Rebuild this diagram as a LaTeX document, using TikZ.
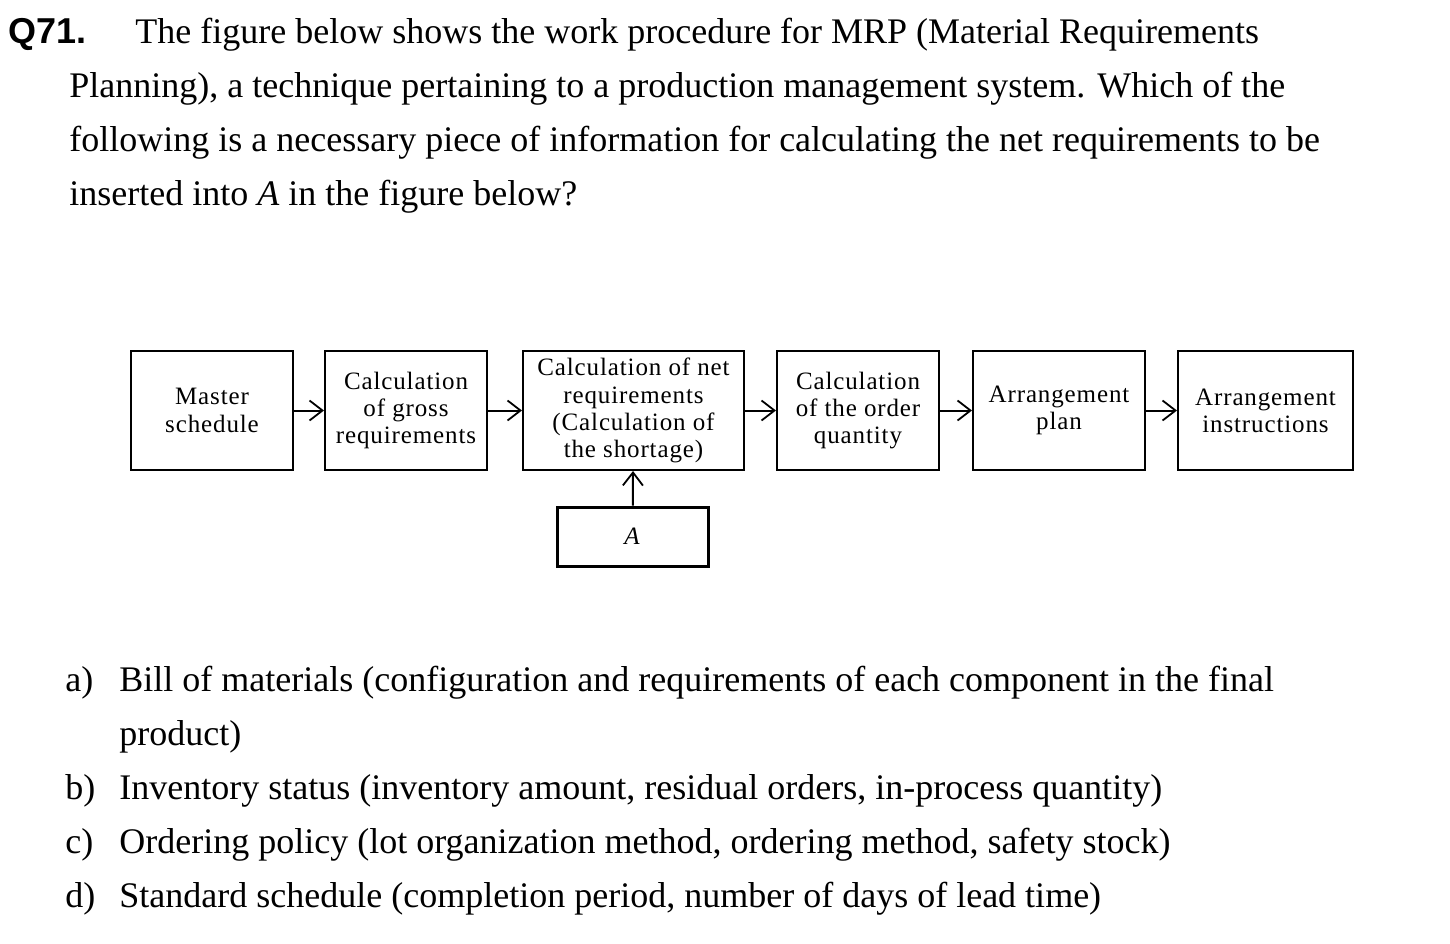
\documentclass[tikz,border=0pt]{standalone}
\usepackage{fontspec}
\setmainfont{Liberation Serif}
\newfontfamily\qfont{Liberation Sans}
\newfontfamily\boxfont[LetterSpace=3.5]{Liberation Serif}
\usetikzlibrary{arrows.meta}
\tikzset{
  txt/.style={anchor=base west, inner sep=0pt, font=\fontsize{18}{27}\selectfont},
  procbox/.style={draw, line width=1pt, align=center, inner sep=0pt,
    font=\boxfont\fontsize{12.5}{13.6}\selectfont},
  flow/.style={line width=1pt, -{Straight Barb[length=6.5pt,width=10pt,line width=0.9pt]}}
}
\begin{document}
\begin{tikzpicture}[x=0.5pt,y=-0.5pt]
\useasboundingbox (0,0) rectangle (1450,943);
% question text
\node[txt, font=\qfont\bfseries\fontsize{18}{27}\selectfont] (q) at (8,43) {Q71.};
\node[txt] (l1) at (135,43) {The figure below shows the work procedure for MRP (Material Requirements};
\node[txt] (l2) at (69,97) {Planning), a technique pertaining to a production management system. Which of the};
\node[txt] (l3) at (69,151) {following is a necessary piece of information for calculating the net requirements to be};
\node[txt] (l4) at (69,205) {inserted into \textit{A} in the figure below?};
% boxes
\node[procbox, minimum width=81pt, minimum height=59.5pt] (ms) at (212,410.5) {Master\\schedule};
\node[procbox, minimum width=81pt, minimum height=59.5pt] (gr) at (406,410.5) {Calculation\\of gross\\requirements};
\node[procbox, minimum width=110.5pt, minimum height=59.5pt] (nr) at (633.5,410.5) {Calculation of net\\requirements\\(Calculation of\\the shortage)};
\node[procbox, minimum width=81pt, minimum height=59.5pt] (oq) at (858,410.5) {Calculation\\of the order\\quantity};
\node[procbox, minimum width=86pt, minimum height=59.5pt] (ap) at (1059,410.5) {Arrangement\\plan};
\node[procbox, minimum width=87.5pt, minimum height=59.5pt] (ai) at (1265.5,410.5) {Arrangement\\instructions};
\node[procbox, line width=1.5pt, minimum width=75.5pt, minimum height=29.5pt] (a) at (632.5,536.5) {\textit{A}};
% arrows
\draw[flow] (ms) -- (gr);
\draw[flow] (gr) -- (nr);
\draw[flow] (nr) -- (oq);
\draw[flow] (oq) -- (ap);
\draw[flow] (ap) -- (ai);
\draw[flow] (a) -- (nr);
% options
\node[txt] (oa) at (65,691) {a)};
\node[txt] (ta) at (119,691) {Bill of materials (configuration and requirements of each component in the final};
\node[txt] (ta2) at (119,745) {product)};
\node[txt] (ob) at (65,799) {b)};
\node[txt] (tb) at (119,799) {Inventory status (inventory amount, residual orders, in-process quantity)};
\node[txt] (oc) at (65,853) {c)};
\node[txt] (tc) at (119,853) {Ordering policy (lot organization method, ordering method, safety stock)};
\node[txt] (od) at (65,907) {d)};
\node[txt] (td) at (119,907) {Standard schedule (completion period, number of days of lead time)};
\end{tikzpicture}
\end{document}
